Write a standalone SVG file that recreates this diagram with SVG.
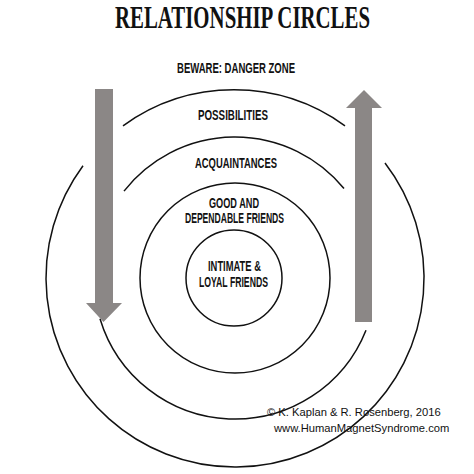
<svg xmlns="http://www.w3.org/2000/svg" width="474" height="474" viewBox="0 0 474 474">
<style>
.ring{fill:none;stroke:#111;stroke-width:1.5}
.arrow{fill:#8b8786}
.lbl{font-family:"Liberation Sans","DejaVu Sans",sans-serif;font-weight:bold;font-size:14px;fill:#111;text-anchor:middle}
.title{font-family:"Liberation Serif","DejaVu Serif",serif;font-weight:bold;font-size:31px;fill:#111;text-anchor:middle}
.copy{font-family:"Liberation Sans",Arial,sans-serif;font-size:11.2px;fill:#111}
</style>
<rect width="474" height="474" fill="#fff"/>
<text class="title" x="242.5" y="28" textLength="255" lengthAdjust="spacingAndGlyphs">RELATIONSHIP CIRCLES</text>
<g id="connectors">
  <path id="outer-top" class="ring" d="M 123 125.8 A 189 189 0 0 1 345 125.8"/>
  <path id="outer-side" class="ring" d="M 83 165.7 A 189 189 0 1 0 385 163"/>
  <path id="third-top" class="ring" d="M 124 191.1 A 141 141 0 0 1 344 188.6"/>
  <path id="third-bottom" class="ring" d="M 100 318.7 A 141 141 0 0 0 366 330.2"/>
  <circle id="second-ring" class="ring" cx="235" cy="278" r="95"/>
  <circle id="inner-ring" class="ring" cx="234" cy="278" r="48"/>
</g>
<g id="arrow-down">
  <path class="arrow" d="M 95 89 H 113 V 303 H 122 L 103.5 322 L 86 303 H 95 Z"/>
</g>
<g id="arrow-up">
  <path class="arrow" d="M 355 322 V 108 H 346 L 364 90 L 382 108 H 372 V 322 Z"/>
</g>
<g id="danger-zone">
  <text class="lbl" x="236" y="73" textLength="118" lengthAdjust="spacingAndGlyphs">BEWARE: DANGER ZONE</text>
</g>
<g id="possibilities">
  <text class="lbl" x="233" y="120" textLength="70" lengthAdjust="spacingAndGlyphs">POSSIBILITIES</text>
</g>
<g id="acquaintances">
  <text class="lbl" x="236" y="168" textLength="82" lengthAdjust="spacingAndGlyphs">ACQUAINTANCES</text>
</g>
<g id="good-friends">
  <text class="lbl" x="234" y="208" textLength="50" lengthAdjust="spacingAndGlyphs">GOOD AND</text>
  <text class="lbl" x="234.5" y="223" textLength="99" lengthAdjust="spacingAndGlyphs">DEPENDABLE FRIENDS</text>
</g>
<g id="intimate-friends">
  <text class="lbl" x="234.5" y="271" textLength="53" lengthAdjust="spacingAndGlyphs">INTIMATE &amp;</text>
  <text class="lbl" x="233.5" y="287" textLength="69" lengthAdjust="spacingAndGlyphs">LOYAL FRIENDS</text>
</g>
<g id="copyright">
  <text class="copy" x="267" y="416">© K. Kaplan &amp; R. Rosenberg, 2016</text>
  <text class="copy" x="274" y="432">www.HumanMagnetSyndrome.com</text>
</g>
</svg>
